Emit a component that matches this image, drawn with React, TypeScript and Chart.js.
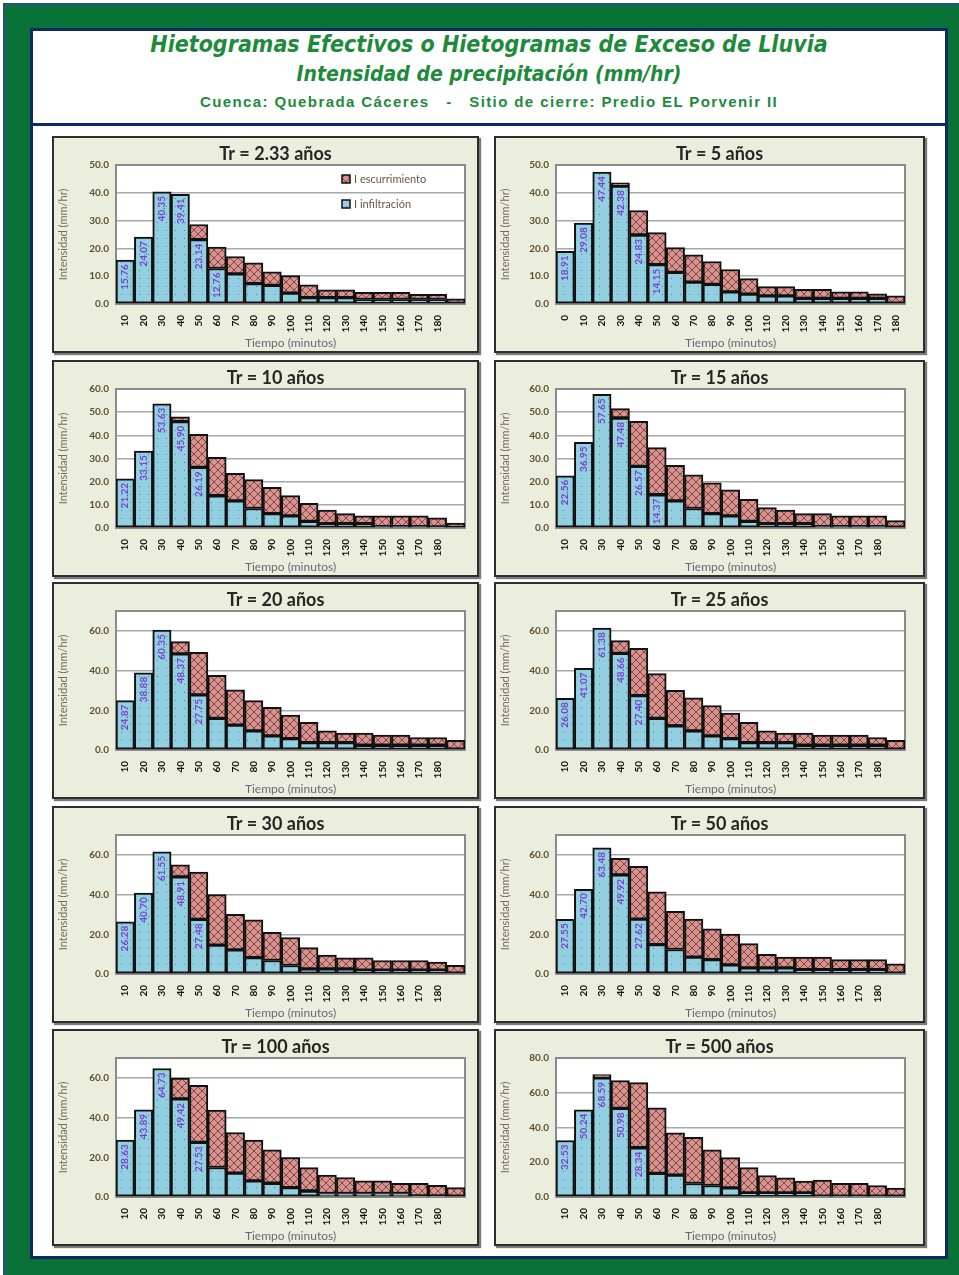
import React, { useEffect, useRef } from 'react';
import { Chart, registerables } from 'chart.js';

Chart.register(...registerables);

// ---------------- data ----------------
const TIME_LABELS = ['10', '20', '30', '40', '50', '60', '70', '80', '90', '100', '110', '120', '130', '140', '150', '160', '170', '180', ''];
const TIME_LABELS_FROM_ZERO = ['0', '10', '20', '30', '40', '50', '60', '70', '80', '90', '100', '110', '120', '130', '140', '150', '160', '170', '180'];

const CHART_TITLES = ['Tr = 2.33 años', 'Tr = 5 años', 'Tr = 10 años', 'Tr = 15 años', 'Tr = 20 años', 'Tr = 25 años', 'Tr = 30 años', 'Tr = 50 años', 'Tr = 100 años', 'Tr = 500 años'];

const INF_TR2_33 = [15.76, 24.07, 40.35, 39.41, 23.14, 12.76, 10.85, 7.32, 6.71, 3.92, 2.31, 2.31, 2.31, 1.62, 1.62, 1.62, 1.62, 1.62, 0];
const ESC_TR2_33 = [0, 0, 0, 0, 5.46, 7.74, 6.25, 7.48, 4.89, 6.28, 4.59, 2.79, 2.79, 2.58, 2.58, 2.58, 1.88, 1.88, 1.85];

const INF_TR5 = [18.91, 29.08, 47.44, 42.38, 24.83, 14.15, 11.36, 7.86, 7.07, 4.36, 3.54, 2.95, 2.95, 2.0, 2.0, 2.0, 2.0, 2.0, 0];
const ESC_TR5 = [0, 0, 0, 1.2, 8.8, 11.55, 8.94, 9.84, 8.23, 8.04, 5.56, 3.3, 3.3, 3.3, 3.3, 2.4, 2.4, 1.7, 2.9];

const INF_TR10 = [21.22, 33.15, 53.63, 45.9, 26.19, 13.91, 11.72, 8.42, 6.2, 5.24, 2.88, 1.82, 1.82, 1.82, 0.6, 0.6, 0.6, 0.5, 0];
const ESC_TR10 = [0, 0, 0, 2.1, 14.21, 16.59, 11.88, 12.48, 11.4, 8.76, 7.72, 5.88, 4.38, 3.38, 4.6, 4.6, 4.6, 3.9, 2.1];

const INF_TR15 = [22.56, 36.95, 57.65, 47.48, 26.57, 14.37, 11.72, 8.42, 6.2, 5.24, 2.88, 1.82, 1.82, 1.82, 0.6, 0.6, 0.6, 0.6, 0];
const ESC_TR15 = [0, 0, 0, 4.02, 19.43, 20.33, 15.38, 14.48, 13.3, 11.26, 9.52, 6.98, 5.88, 4.38, 5.6, 4.6, 4.6, 4.6, 3.2];

const INF_TR20 = [24.87, 38.88, 60.35, 48.37, 27.75, 15.92, 12.54, 9.66, 7.12, 5.76, 3.73, 3.73, 3.73, 2.37, 2.37, 2.37, 2.37, 2.37, 0];
const ESC_TR20 = [0, 0, 0, 6.23, 21.45, 21.68, 17.76, 15.24, 14.38, 11.84, 10.17, 5.97, 4.77, 6.13, 5.13, 5.13, 3.93, 3.93, 4.9];

const INF_TR25 = [26.08, 41.07, 61.38, 48.66, 27.4, 15.92, 12.2, 9.66, 7.12, 5.76, 3.73, 3.73, 3.73, 2.37, 2.37, 2.37, 2.37, 2.37, 0];
const ESC_TR25 = [0, 0, 0, 6.44, 23.8, 22.58, 17.8, 16.64, 15.28, 12.84, 10.17, 5.97, 4.77, 6.13, 5.13, 5.13, 5.13, 3.93, 4.9];

const INF_TR30 = [26.28, 40.7, 61.55, 48.91, 27.48, 14.52, 12.14, 8.22, 6.82, 4.26, 2.56, 2.56, 2.56, 1.88, 1.88, 1.88, 1.88, 1.88, 0];
const ESC_TR30 = [0, 0, 0, 6.09, 23.82, 25.48, 17.86, 19.08, 14.18, 14.14, 10.74, 6.94, 5.64, 6.32, 4.92, 4.92, 4.92, 4.12, 4.4];

const INF_TR50 = [27.55, 42.7, 63.48, 49.92, 27.62, 14.82, 12.34, 8.52, 7.22, 4.62, 3.12, 3.12, 3.12, 2.22, 2.22, 2.22, 2.22, 2.22, 0];
const ESC_TR50 = [0, 0, 0, 8.38, 26.58, 26.58, 19.16, 19.08, 15.48, 15.48, 12.18, 6.78, 5.38, 6.28, 6.28, 4.98, 4.98, 4.98, 5.1];

const INF_TR100 = [28.63, 43.89, 64.73, 49.42, 27.53, 14.84, 12.04, 8.14, 6.94, 4.74, 3.04, 1.74, 1.74, 1.74, 1.74, 1.74, 0.5, 0.5, 0];
const ESC_TR100 = [0, 0, 0, 10.48, 28.67, 28.96, 20.46, 20.56, 16.86, 15.16, 11.76, 9.36, 8.06, 6.36, 6.36, 5.16, 6.4, 5.4, 4.7];

const INF_TR500 = [32.53, 50.24, 68.59, 50.98, 28.34, 13.59, 12.62, 7.77, 6.62, 5.24, 2.33, 2.33, 2.33, 2.33, 0.5, 0.5, 0.5, 0.5, 0];
const ESC_TR500 = [0, 0, 1.9, 16.02, 37.46, 37.71, 24.28, 26.63, 20.58, 17.46, 14.57, 10.07, 8.77, 6.77, 9.2, 7.3, 7.3, 6.1, 5.2];

const INF_SERIES = [INF_TR2_33, INF_TR5, INF_TR10, INF_TR15, INF_TR20, INF_TR25, INF_TR30, INF_TR50, INF_TR100, INF_TR500];
const ESC_SERIES = [ESC_TR2_33, ESC_TR5, ESC_TR10, ESC_TR15, ESC_TR20, ESC_TR25, ESC_TR30, ESC_TR50, ESC_TR100, ESC_TR500];
const X_LABELS = [TIME_LABELS, TIME_LABELS_FROM_ZERO, TIME_LABELS, TIME_LABELS, TIME_LABELS, TIME_LABELS, TIME_LABELS, TIME_LABELS, TIME_LABELS, TIME_LABELS];
const Y_MAX = [50, 50, 60, 60, 70, 70, 70, 70, 70, 80];
const Y_STEP = [10, 10, 10, 10, 20, 20, 20, 20, 20, 20];
const LABELED_BARS = [6, 6, 5, 6, 5, 5, 5, 5, 5, 5];

const SERIES_INF_NAME = 'I infiltración';
const SERIES_ESC_NAME = 'I escurrimiento';

// ---------------- layout / style ----------------
const FONT = "Lato, 'Open Sans', 'Noto Sans', sans-serif";
const PANEL_TOPS = [136, 360, 582, 806, 1029];
const PANEL_H = 217;
const COLS = [
  { left: 52, width: 427, plotLeft: 62, gapRight: 12 },
  { left: 494, width: 431, plotLeft: 60, gapRight: 18 },
];

function makeDotPattern(): CanvasPattern | string {
  const c = document.createElement('canvas');
  c.width = 9;
  c.height = 8;
  const g = c.getContext('2d');
  if (!g) return '#92cfe0';
  g.fillStyle = '#92cfe0';
  g.fillRect(0, 0, 9, 8);
  g.fillStyle = 'rgba(40,80,95,0.6)';
  g.fillRect(4, 4, 1, 1);
  return g.createPattern(c, 'repeat') || '#92cfe0';
}

function makeWeavePattern(): CanvasPattern | string {
  const c = document.createElement('canvas');
  c.width = 8;
  c.height = 8;
  const g = c.getContext('2d');
  if (!g) return '#d6908d';
  g.fillStyle = '#d8938f';
  g.fillRect(0, 0, 8, 8);
  g.strokeStyle = 'rgba(70,20,20,0.6)';
  g.lineWidth = 1;
  g.beginPath();
  g.moveTo(0, 0);
  g.lineTo(8, 8);
  g.moveTo(8, 0);
  g.lineTo(0, 8);
  g.stroke();
  return g.createPattern(c, 'repeat') || '#d6908d';
}

const plotBgPlugin = {
  id: 'plotBg',
  beforeDraw(chart: any) {
    const { ctx, chartArea } = chart;
    ctx.save();
    ctx.fillStyle = '#ffffff';
    ctx.fillRect(chartArea.left, chartArea.top, chartArea.right - chartArea.left, chartArea.bottom - chartArea.top);
    ctx.restore();
  },
  beforeDatasetsDraw(chart: any) {
    const { ctx, chartArea } = chart;
    ctx.save();
    ctx.strokeStyle = '#8a8a8a';
    ctx.lineWidth = 2;
    ctx.strokeRect(chartArea.left, chartArea.top, chartArea.right - chartArea.left, chartArea.bottom - chartArea.top);
    ctx.restore();
  },
};

const panelTitlePlugin = {
  id: 'panelTitle',
  afterDraw(chart: any, _args: any, opts: any) {
    if (!opts || !opts.text) return;
    const { ctx } = chart;
    ctx.save();
    ctx.font = `bold 18px ${FONT}`;
    ctx.fillStyle = '#262626';
    ctx.textAlign = 'center';
    ctx.textBaseline = 'middle';
    ctx.fillText(opts.text, chart.width / 2 + (opts.offset || 0), opts.y || 15);
    ctx.restore();
  },
};

const barLabelPlugin = {
  id: 'barLabels',
  afterDatasetsDraw(chart: any, _args: any, opts: any) {
    const count = opts && opts.count ? opts.count : 0;
    const meta = chart.getDatasetMeta(0);
    const data = chart.data.datasets[0].data;
    const { ctx } = chart;
    ctx.save();
    ctx.font = `bold 10px ${FONT}`;
    ctx.fillStyle = '#7a3fd0';
    ctx.textAlign = 'right';
    ctx.textBaseline = 'middle';
    for (let i = 0; i < count && i < meta.data.length; i++) {
      const el = meta.data[i];
      const v = data[i];
      ctx.save();
      ctx.translate(el.x, el.y + 4);
      ctx.rotate(-Math.PI / 2);
      ctx.fillText(Number(v).toFixed(2), 0, 0);
      ctx.restore();
    }
    ctx.restore();
  },
};

const insideLegendPlugin = {
  id: 'insideLegend',
  afterDatasetsDraw(chart: any, _args: any, opts: any) {
    if (!opts || !opts.display) return;
    const { ctx, chartArea } = chart;
    const ds = chart.data.datasets.slice().reverse();
    ctx.save();
    ctx.font = `11px ${FONT}`;
    ctx.textBaseline = 'middle';
    ctx.textAlign = 'left';
    ds.forEach((d: any, k: number) => {
      const x = chartArea.left + 226;
      const y = chartArea.top + 14 + k * 25;
      ctx.fillStyle = d.backgroundColor;
      ctx.fillRect(x, y - 4, 8, 8);
      ctx.strokeStyle = '#111';
      ctx.lineWidth = 1.5;
      ctx.strokeRect(x, y - 4, 8, 8);
      ctx.fillStyle = '#6a5746';
      ctx.fillText(d.label, x + 12, y);
    });
    ctx.restore();
  },
};

function HyetoChart({ index }: { index: number }) {
  const ref = useRef<HTMLCanvasElement | null>(null);
  const col = COLS[index % 2];
  const innerW = col.width - 4;
  const innerH = PANEL_H - 4;

  useEffect(() => {
    if (!ref.current) return;
    const step = Y_STEP[index];
    const chart = new Chart(ref.current, {
      type: 'bar',
      data: {
        labels: X_LABELS[index],
        datasets: [
          {
            label: SERIES_INF_NAME,
            data: INF_SERIES[index],
            backgroundColor: makeDotPattern() as any,
            borderColor: '#111111',
            borderWidth: 2,
            borderSkipped: false,
            barPercentage: 1,
            categoryPercentage: 1,
          },
          {
            label: SERIES_ESC_NAME,
            data: ESC_SERIES[index],
            backgroundColor: makeWeavePattern() as any,
            borderColor: '#111111',
            borderWidth: 2,
            borderSkipped: false,
            barPercentage: 1,
            categoryPercentage: 1,
          },
        ],
      },
      options: {
        responsive: false,
        animation: false,
        events: [],
        layout: { padding: { top: 27, right: col.gapRight, left: 0, bottom: 0 } },
        plugins: {
          legend: { display: false },
          tooltip: { enabled: false },
          title: { display: false },
          panelTitle: { text: CHART_TITLES[index], offset: 10, y: 16 },
          barLabels: { count: LABELED_BARS[index] },
          insideLegend: { display: index === 0 },
        } as any,
        scales: {
          x: {
            stacked: true,
            grid: { display: false },
            border: { display: false },
            ticks: {
              autoSkip: false,
              maxRotation: 90,
              minRotation: 90,
              color: '#111',
              padding: 3,
              font: { family: FONT, size: 10, weight: 'bold' },
            },
            title: {
              display: true,
              text: 'Tiempo (minutos)',
              color: '#6b667a',
              font: { family: FONT, size: 12 },
              padding: { top: 0, bottom: 1 },
            },
            afterFit: (s: any) => {
              s.height = 47;
            },
          },
          y: {
            stacked: true,
            min: 0,
            max: Y_MAX[index],
            grid: { color: '#a8a8a8', lineWidth: 1.5, drawTicks: false },
            border: { display: false },
            ticks: {
              stepSize: step,
              padding: 7,
              color: '#5e4d2c',
              font: { family: FONT, size: 10, weight: 'bold' },
              callback: (v: any) => (Number(v) % step === 0 ? Number(v).toFixed(1) : ''),
            },
            title: {
              display: true,
              text: 'Intensidad (mm/hr)',
              color: '#7a6a5c',
              font: { family: FONT, size: 11 },
              padding: { top: 3, bottom: 0 },
            },
            afterFit: (s: any) => {
              s.width = col.plotLeft;
            },
          },
        },
      } as any,
      plugins: [plotBgPlugin, panelTitlePlugin, barLabelPlugin, insideLegendPlugin],
    });
    return () => chart.destroy();
  }, [index]);

  return (
    <div
      style={{
        position: 'absolute',
        left: col.left,
        top: PANEL_TOPS[Math.floor(index / 2)],
        width: innerW,
        height: innerH,
        background: '#ebeedd',
        border: '2px solid #2e2e2e',
        boxShadow: '2px 2px 1px #7a7a7a',
      }}
    >
      <canvas ref={ref} width={innerW} height={innerH} style={{ display: 'block', width: innerW, height: innerH }} />
    </div>
  );
}

export default function App() {
  const headerFont = "'Liberation Sans Narrow', 'Arial Narrow', 'DejaVu Sans Condensed', sans-serif";
  return (
    <div style={{ position: 'absolute', left: 0, top: 0, width: 959, height: 1275, overflow: 'hidden', background: '#ffffff' }}>
      <div
        style={{
          position: 'absolute',
          left: 3,
          top: 3,
          width: 960,
          height: 1280,
          background: '#0b7237',
          borderLeft: '2px solid #2a4d8a',
          borderTop: '2px solid #2a4d8a',
        }}
      />
      <div
        style={{
          position: 'absolute',
          left: 30,
          top: 28,
          width: 912,
          height: 1225,
          background: '#ffffff',
          border: '3px solid #0d2a66',
        }}
      />
      <div style={{ position: 'absolute', left: 30, top: 123, width: 918, height: 3, background: '#0d2a66' }} />
      <div
        style={{
          position: 'absolute',
          left: 33,
          top: 31,
          width: 912,
          textAlign: 'center',
          color: '#1d8a3c',
          fontFamily: headerFont,
        }}
      >
        <div style={{ position: 'absolute', left: 0, width: 912, top: 0, fontSize: 23, lineHeight: '26px', fontWeight: 'bold', fontStyle: 'italic' }}>
          Hietogramas Efectivos o Hietogramas de Exceso de Lluvia
        </div>
        <div style={{ position: 'absolute', left: 0, width: 912, top: 30, fontSize: 21, lineHeight: '26px', fontWeight: 'bold', fontStyle: 'italic' }}>
          Intensidad de precipitación (mm/hr)
        </div>
        <div
          style={{
            position: 'absolute',
            left: 0,
            width: 912,
            top: 62,
            fontSize: 15,
            lineHeight: '18px',
            fontWeight: 'bold',
            whiteSpace: 'pre',
            fontFamily: "'Liberation Sans', Arial, sans-serif",
            letterSpacing: 1.4,
          }}
        >
          {'Cuenca: Quebrada Cáceres   -   Sitio de cierre: Predio EL Porvenir II'}
        </div>
      </div>
      {CHART_TITLES.map((_, i) => (
        <HyetoChart key={i} index={i} />
      ))}
    </div>
  );
}
